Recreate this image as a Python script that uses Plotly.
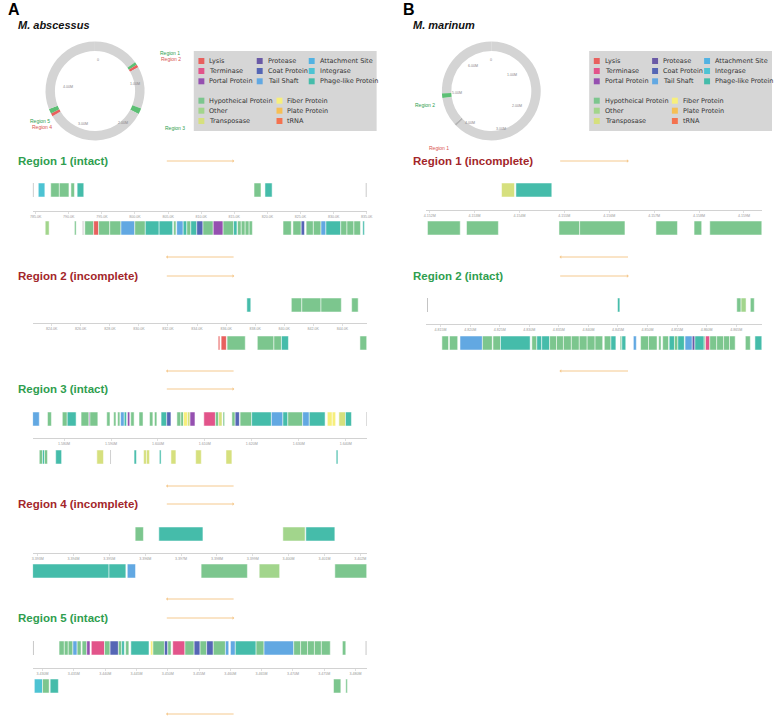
import math
import plotly.graph_objects as go

W, H = 780, 718

# ---------------- colours / categories ----------------
CAT_NAMES = {
    'L': 'Lysis', 'M': 'Terminase', 'Q': 'Portal Protein', 'R': 'Protease',
    'C': 'Coat Protein', 'S': 'Tail Shaft', 'A': 'Attachment Site',
    'I': 'Integrase', 'P': 'Phage-like Protein', 'H': 'Hypotheical Protein',
    'O': 'Other', 'T': 'Transposase', 'F': 'Fiber Protein', 'X': 'Plate Protein',
    'N': 'tRNA', 'B': 'boundary'}
CAT_COLORS = {
    'L': '#e8605e', 'M': '#e2548a', 'Q': '#9550b0', 'R': '#6a5aa6',
    'C': '#5566b5', 'S': '#62a8e2', 'A': '#52b2e2', 'I': '#4dc3d3',
    'P': '#45bcaa', 'H': '#7cc68e', 'O': '#a2d58c', 'T': '#d6e07e',
    'F': '#f7ef7c', 'X': '#f5bf55', 'N': '#f4724f', 'B': '#bdbdbd'}

LEGEND_GROUP1 = [['L', 'R', 'A'], ['M', 'C', 'I'], ['Q', 'S', 'P']]
LEGEND_GROUP2 = [['H', 'F'], ['O', 'X'], ['T', 'N']]

# ---------------- genome circles ----------------
GENOME_A = 5070.0   # kb
GENOME_B = 6600.0
CIRCLE_MARKS_A = [(765, 815, '#5cbf74'), (815, 865, '#e8605e'),
                  (1560, 1660, '#5cbf74'), (3370, 3420, '#e8605e'),
                  (3420, 3500, '#5cbf74')]
CIRCLE_MARKS_B = [(4130, 4180, '#b5b5b5'), (4800, 4900, '#5cbf74')]
CIRCLE_TICKS_A = [0, 1000, 2000, 3000, 4000]
CIRCLE_TICKTEXT_A = ['0', '1.00M', '2.00M', '3.00M', '4.00M']
CIRCLE_TICKS_B = [0, 1000, 2000, 3000, 4000, 5000, 6000]
CIRCLE_TICKTEXT_B = ['0', '1.00M', '2.00M', '3.00M', '4.00M', '5.00M', '6.00M']

# ---------------- region gene data (start kb, end kb, category) ----------------
A1_FWD = [(784.55, 784.70, 'B'), (785.40, 786.39, 'I'), (787.28, 788.58, 'H'), (788.58, 790.03, 'H'),
          (790.33, 790.86, 'H'), (791.27, 792.27, 'P'), (817.98, 819.03, 'H'), (819.63, 820.71, 'P'),
          (834.85, 835.00, 'B')]
A1_REV = [(786.45, 787.04, 'O'), (790.86, 791.12, 'H'), (792.10, 792.22, 'B'), (792.42, 793.76, 'H'),
          (793.76, 794.51, 'L'), (794.51, 796.19, 'H'), (796.19, 797.88, 'H'), (797.88, 799.97, 'S'),
          (799.97, 801.56, 'H'), (801.56, 803.65, 'P'), (803.65, 805.69, 'P'), (805.84, 806.19, 'H'),
          (806.30, 807.28, 'S'), (807.28, 807.83, 'P'), (807.83, 808.43, 'H'), (808.43, 809.33, 'P'),
          (809.33, 810.27, 'C'), (810.27, 811.82, 'H'), (811.82, 813.31, 'Q'), (813.31, 814.89, 'H'),
          (814.89, 815.40, 'P'), (815.49, 816.05, 'H'), (816.05, 816.64, 'H'), (816.64, 817.24, 'H'),
          (817.24, 817.73, 'H'), (822.36, 823.61, 'H'), (823.85, 825.10, 'H'), (825.10, 825.60, 'C'),
          (825.85, 826.94, 'H'), (826.94, 828.09, 'H'), (828.09, 828.83, 'S'), (828.83, 831.07, 'P'),
          (831.07, 832.01, 'H'), (832.01, 833.06, 'H'), (833.06, 834.05, 'H'), (834.40, 834.65, 'P')]
A1_RANGE = [784.55, 835.0]
A1_TICKS = [785, 790, 795, 800, 805, 810, 815, 820, 825, 830, 835]
A1_TICKTEXT = ['785.0K', '790.0K', '795.0K', '800.0K', '805.0K', '810.0K', '815.0K',
               '820.0K', '825.0K', '830.0K', '835.0K']

A2_FWD = [(837.43, 837.70, 'P'), (840.49, 841.21, 'H'), (841.21, 842.53, 'H'), (842.53, 843.93, 'H'),
          (844.64, 845.09, 'H')]
A2_REV = [(835.46, 835.57, 'L'), (835.66, 836.02, 'L'), (836.07, 837.32, 'H'), (838.15, 839.29, 'H'),
          (839.29, 839.81, 'H'), (839.81, 840.29, 'P'), (845.21, 845.68, 'H')]
A2_RANGE = [822.69, 845.68]
A2_TICKS = [824, 826, 828, 830, 832, 834, 836, 838, 840, 842, 844]
A2_TICKTEXT = ['824.0K', '826.0K', '828.0K', '830.0K', '832.0K', '834.0K', '836.0K',
               '838.0K', '840.0K', '842.0K', '844.0K']

A3_FWD = [(1573.30, 1574.71, 'S'), (1576.46, 1577.30, 'H'), (1579.62, 1580.67, 'H'), (1580.67, 1582.56, 'P'),
          (1583.62, 1585.30, 'H'), (1585.30, 1585.51, 'Q'), (1585.51, 1587.19, 'H'), (1589.09, 1589.78, 'H'),
          (1590.56, 1591.05, 'H'), (1591.41, 1591.89, 'H'), (1592.04, 1592.82, 'S'), (1592.82, 1593.30, 'P'),
          (1593.51, 1593.99, 'Q'), (1594.20, 1594.92, 'H'), (1595.97, 1596.82, 'H'), (1598.21, 1598.92, 'H'),
          (1599.26, 1599.77, 'H'), (1600.67, 1601.87, 'P'), (1601.87, 1602.77, 'C'), (1604.04, 1604.88, 'H'),
          (1604.88, 1605.45, 'H'), (1605.45, 1606.29, 'F'), (1606.29, 1606.84, 'T'), (1606.84, 1607.89, 'Q'),
          (1609.78, 1612.25, 'M'), (1612.25, 1612.94, 'H'), (1612.94, 1613.66, 'T'), (1613.87, 1614.21, 'H'),
          (1615.76, 1616.46, 'H'), (1616.46, 1617.36, 'C'), (1617.51, 1619.97, 'H'), (1619.97, 1624.18, 'P'),
          (1624.18, 1626.63, 'S'), (1626.63, 1627.68, 'P'), (1627.68, 1630.84, 'H'), (1630.84, 1632.25, 'S'),
          (1632.25, 1635.62, 'P'), (1636.10, 1637.15, 'F'), (1637.15, 1637.87, 'F'), (1638.56, 1639.97, 'T'),
          (1639.97, 1641.24, 'P'), (1644.35, 1644.50, 'B')]
A3_REV = [(1574.71, 1575.41, 'H'), (1575.41, 1575.83, 'P'), (1575.83, 1576.46, 'H'), (1578.21, 1579.47, 'P'),
          (1586.98, 1588.39, 'T'), (1589.85, 1590.00, 'B'), (1594.92, 1595.41, 'P'), (1596.94, 1597.55, 'T'),
          (1597.55, 1598.21, 'T'), (1600.31, 1600.67, 'P'), (1602.77, 1603.83, 'T'), (1608.04, 1609.24, 'T'),
          (1614.50, 1615.76, 'T'), (1637.99, 1638.35, 'P')]
A3_RANGE = [1573.3, 1644.5]
A3_TICKS = [1580, 1590, 1600, 1610, 1620, 1630, 1640]
A3_TICKTEXT = ['1.580M', '1.590M', '1.600M', '1.610M', '1.620M', '1.630M', '1.640M']

A4_FWD = [(3395.72, 3395.95, 'H'), (3396.38, 3397.61, 'P'), (3399.84, 3400.46, 'O'), (3400.48, 3401.29, 'P')]
A4_REV = [(3392.86, 3394.99, 'P'), (3394.99, 3395.46, 'P'), (3395.50, 3395.73, 'S'), (3397.56, 3398.85, 'H'),
          (3399.18, 3399.75, 'O'), (3401.29, 3402.18, 'H')]
A4_RANGE = [3392.86, 3402.18]
A4_TICKS = [3393, 3394, 3395, 3396, 3397, 3398, 3399, 3400, 3401, 3402]
A4_TICKTEXT = ['3.393M', '3.394M', '3.395M', '3.396M', '3.397M', '3.398M', '3.399M',
               '3.400M', '3.401M', '3.402M']

A5_FWD = [(3428.45, 3428.60, 'B'), (3432.64, 3433.48, 'H'), (3433.48, 3434.11, 'H'), (3434.11, 3434.85, 'H'),
          (3434.85, 3435.53, 'S'), (3435.53, 3436.16, 'H'), (3436.32, 3437.06, 'H'), (3437.06, 3437.58, 'Q'),
          (3437.79, 3439.90, 'M'), (3439.90, 3440.79, 'H'), (3440.79, 3442.12, 'C'), (3442.12, 3442.64, 'H'),
          (3442.64, 3443.07, 'P'), (3443.27, 3443.79, 'H'), (3444.11, 3447.01, 'P'), (3447.26, 3447.64, 'F'),
          (3447.64, 3449.48, 'H'), (3449.48, 3450.01, 'C'), (3450.01, 3450.54, 'H'), (3450.80, 3452.75, 'M'),
          (3452.75, 3454.22, 'H'), (3454.22, 3455.17, 'C'), (3455.17, 3456.22, 'H'), (3456.22, 3457.28, 'C'),
          (3457.28, 3459.22, 'H'), (3459.22, 3459.75, 'S'), (3460.02, 3460.80, 'S'), (3460.80, 3464.12, 'P'),
          (3464.12, 3465.39, 'H'), (3465.39, 3470.13, 'S'), (3470.13, 3471.23, 'H'), (3471.23, 3472.34, 'H'),
          (3472.34, 3473.44, 'H'), (3473.44, 3474.55, 'H'), (3474.55, 3475.97, 'H'), (3477.91, 3478.45, 'H'),
          (3481.62, 3481.78, 'B')]
A5_REV = [(3428.69, 3430.00, 'I'), (3430.00, 3431.06, 'H'), (3431.22, 3432.53, 'P'), (3476.49, 3477.66, 'H'),
          (3478.45, 3478.71, 'H')]
A5_RANGE = [3428.42, 3481.8]
A5_TICKS = [3430, 3435, 3440, 3445, 3450, 3455, 3460, 3465, 3470, 3475, 3480]
A5_TICKTEXT = ['3.430M', '3.435M', '3.440M', '3.445M', '3.450M', '3.455M', '3.460M',
               '3.465M', '3.470M', '3.475M', '3.480M']

B1_FWD = [(4153.60, 4153.89, 'T'), (4153.92, 4154.72, 'P')]
B1_REV = [(4151.95, 4152.68, 'H'), (4152.82, 4153.53, 'H'), (4154.88, 4155.34, 'H'), (4155.34, 4156.35, 'H'),
          (4157.04, 4157.52, 'H'), (4157.89, 4158.06, 'H'), (4158.24, 4159.40, 'H')]
B1_RANGE = [4151.925, 4159.40]
B1_TICKS = [4152, 4153, 4154, 4155, 4156, 4157, 4158, 4159]
B1_TICKTEXT = ['4.152M', '4.153M', '4.154M', '4.155M', '4.156M', '4.157M', '4.158M', '4.159M']

B2_FWD = [(4812.70, 4812.85, 'B'), (4844.93, 4845.32, 'P'), (4865.10, 4865.83, 'H'), (4865.83, 4866.67, 'O'),
          (4867.39, 4868.06, 'H')]
B2_REV = [(4815.22, 4816.34, 'H'), (4816.50, 4817.89, 'H'), (4818.28, 4822.07, 'S'), (4822.07, 4823.74, 'H'),
          (4823.86, 4825.13, 'H'), (4825.13, 4830.15, 'P'), (4830.43, 4831.27, 'H'), (4831.27, 4832.10, 'P'),
          (4832.10, 4833.44, 'P'), (4833.44, 4834.61, 'H'), (4834.61, 4835.78, 'H'), (4835.78, 4837.12, 'H'),
          (4837.12, 4838.46, 'H'), (4838.46, 4839.79, 'H'), (4839.79, 4841.13, 'H'), (4841.13, 4842.42, 'H'),
          (4842.69, 4843.81, 'H'), (4843.81, 4844.65, 'P'), (4845.37, 4845.65, 'H'), (4845.65, 4846.32, 'P'),
          (4847.61, 4848.11, 'S'), (4848.83, 4850.17, 'H'), (4850.17, 4851.62, 'H'), (4851.89, 4852.29, 'H'),
          (4852.56, 4853.56, 'H'), (4853.67, 4854.56, 'P'), (4854.56, 4855.13, 'H'), (4855.13, 4856.23, 'P'),
          (4856.35, 4857.57, 'S'), (4857.57, 4858.02, 'R'), (4858.02, 4859.58, 'P'), (4859.58, 4859.81, 'H'),
          (4859.81, 4860.53, 'M'), (4860.53, 4861.70, 'H'), (4861.70, 4862.87, 'H'), (4862.87, 4863.87, 'H'),
          (4863.87, 4864.83, 'H'), (4866.55, 4867.39, 'H'), (4868.17, 4869.34, 'P')]
B2_RANGE = [4812.59, 4869.34]
B2_TICKS = [4815, 4820, 4825, 4830, 4835, 4840, 4845, 4850, 4855, 4860, 4865]
B2_TICKTEXT = ['4.815M', '4.820M', '4.825M', '4.830M', '4.835M', '4.840M', '4.845M',
               '4.850M', '4.855M', '4.860M', '4.865M']

GREEN_T = '#2f9e4f'
RED_T = '#a3262a'

# region layout: (title, colour, fwd, rev, range, ticks, ticktext, x0, x1, title_y, top_px, axis_px, bot_px, rev_arrow_y)
REGIONS = [
    ('Region 1 (intact)', GREEN_T, A1_FWD, A1_REV, A1_RANGE, A1_TICKS, A1_TICKTEXT, 30, 368, 161, 183, 211, 235, 257),
    ('Region 2 (incomplete)', RED_T, A2_FWD, A2_REV, A2_RANGE, A2_TICKS, A2_TICKTEXT, 30, 368, 276, 298, 323, 350, 371),
    ('Region 3 (intact)', GREEN_T, A3_FWD, A3_REV, A3_RANGE, A3_TICKS, A3_TICKTEXT, 30, 368, 389, 412, 438, 464, 486),
    ('Region 4 (incomplete)', RED_T, A4_FWD, A4_REV, A4_RANGE, A4_TICKS, A4_TICKTEXT, 30, 368, 504, 527, 553, 578, 599),
    ('Region 5 (intact)', GREEN_T, A5_FWD, A5_REV, A5_RANGE, A5_TICKS, A5_TICKTEXT, 30, 368, 618, 641, 668, 693, 714),
    ('Region 1 (incomplete)', RED_T, B1_FWD, B1_REV, B1_RANGE, B1_TICKS, B1_TICKTEXT, 428.3, 767.7, 161, 183, 210, 235, 257),
    ('Region 2 (intact)', GREEN_T, B2_FWD, B2_REV, B2_RANGE, B2_TICKS, B2_TICKTEXT, 428.3, 767.7, 276, 298, 324, 350, 371),
]

fig = go.Figure()
annotations = []
shapes = []


def py(p):
    return 1 - p / H


def px(p):
    return p / W


BAR_PX = 14
for i, (title, tcol, fwd, rev, rng, tv, tt, x0, x1, ty, top, axp, bot, ry) in enumerate(REGIONS, start=1):
    D = bot - top
    wunit = 2.0 * BAR_PX / D
    yc = 1 - BAR_PX / D
    xa = 'x' if i == 1 else f'x{i}'
    ya = 'y' if i == 1 else f'y{i}'
    for strand, genes in ((yc, fwd), (-yc, rev)):
        for is_b in (False, True):
            g = [t for t in genes if (t[2] == 'B') == is_b]
            if not g:
                continue
            fig.add_trace(go.Bar(
                orientation='h', base=[s for s, e, c in g], x=[e - s for s, e, c in g],
                y=[strand] * len(g), width=wunit,
                marker=dict(color=[CAT_COLORS[c] for s, e, c in g],
                            line=dict(color='white', width=0 if is_b else 0.5)),
                xaxis=xa, yaxis=ya, showlegend=False, hoverinfo='skip'))
    fig.layout[f'xaxis{i if i > 1 else ""}'] = dict(
        domain=[px(x0), px(x1)], range=rng, anchor='free', position=py(axp),
        showline=True, linecolor='#d2d2d2', linewidth=1, ticks='outside', ticklen=2,
        tickwidth=0.6, tickcolor='#cccccc', tickvals=tv, ticktext=tt,
        tickfont=dict(size=3.6, color='#999999', family='Liberation Sans'),
        showgrid=False, zeroline=False, fixedrange=True)
    fig.layout[f'yaxis{i if i > 1 else ""}'] = dict(
        domain=[py(bot), py(top)], range=[-1, 1], visible=False, anchor=xa, fixedrange=True)
    tx = 13 if x0 < 100 else 413
    ax0 = 165 if x0 < 100 else 563
    ax1 = 234 if x0 < 100 else 633
    annotations.append(dict(x=px(tx), y=py(ty), xref='paper', yref='paper', xanchor='left', yanchor='middle',
                            text=f'<b>{title}</b>', showarrow=False,
                            font=dict(size=11.5, color=tcol, family='Liberation Sans')))
    annotations.append(dict(x=px(ax1), y=py(ty), xref='paper', yref='paper', text='', showarrow=True,
                            axref='pixel', ayref='pixel', ax=-(ax1 - ax0), ay=0, arrowhead=1, arrowsize=0.6,
                            arrowwidth=1, arrowcolor='#f5c98e'))
    annotations.append(dict(x=px(ax0), y=py(ry), xref='paper', yref='paper', text='', showarrow=True,
                            axref='pixel', ayref='pixel', ax=(ax1 - ax0), ay=0, arrowhead=1, arrowsize=0.6,
                            arrowwidth=1, arrowcolor='#f5c98e'))


# ---------------- circles ----------------
def circle(genome, marks, ticks, ticktext, cx, cy, R):
    vals, cols = [], []
    pos = 0.0
    for s, e, c in marks:
        if s > pos:
            vals.append(s - pos)
            cols.append('#d4d4d4')
        vals.append(e - s)
        cols.append(c)
        pos = e
    vals.append(genome - pos)
    cols.append('#d4d4d4')
    fig.add_trace(go.Pie(values=vals, marker=dict(colors=cols, line=dict(width=0)), sort=False,
                         direction='clockwise', rotation=0, hole=0.81, textinfo='none',
                         hoverinfo='skip', showlegend=False,
                         domain=dict(x=[px(cx - R), px(cx + R)], y=[py(cy + R), py(cy - R)])))
    for v, t in zip(ticks, ticktext):
        a = v / genome * 2 * math.pi
        r = R * 0.70
        annotations.append(dict(x=px(cx + r * math.sin(a)), y=py(cy - r * math.cos(a)), xref='paper',
                                yref='paper', text=t, showarrow=False,
                                font=dict(size=3.6, color='#888888', family='Liberation Sans')))


circle(GENOME_A, CIRCLE_MARKS_A, CIRCLE_TICKS_A, CIRCLE_TICKTEXT_A, 93, 91, 50)
circle(GENOME_B, CIRCLE_MARKS_B, CIRCLE_TICKS_B, CIRCLE_TICKTEXT_B, 494, 91, 50)

REGION_LABELS = [('Region 1', GREEN_T, 157, 48), ('Region 2', '#d9534f', 158, 54.5), ('Region 3', GREEN_T, 162, 123),
                 ('Region 5', GREEN_T, 25, 116), ('Region 4', '#d9534f', 27, 122.5),
                 ('Region 2', GREEN_T, 427, 100), ('Region 1', '#d9534f', 441, 143)]
for t, c, x, y in REGION_LABELS:
    annotations.append(dict(x=px(x), y=py(y), xref='paper', yref='paper', text=t, showarrow=False,
                            font=dict(size=5, color=c, family='Liberation Sans')))

# ---------------- headings ----------------
for letter, x in (('A', 3), ('B', 403)):
    annotations.append(dict(x=px(x), y=py(9), xref='paper', yref='paper', xanchor='left', yanchor='middle',
                            text=f'<b>{letter}</b>', showarrow=False,
                            font=dict(size=16, color='black', family='Liberation Sans')))
for name, x in (('M. abscessus', 13), ('M. marinum', 413)):
    annotations.append(dict(x=px(x), y=py(25), xref='paper', yref='paper', xanchor='left', yanchor='middle',
                            text=f'<b><i>{name}</i></b>', showarrow=False,
                            font=dict(size=11, color='#111111', family='Liberation Sans')))

# ---------------- legends ----------------
for off in (0, 400):
    shapes.append(dict(type='rect', xref='paper', yref='paper', x0=px(193 + off), x1=px(378 + off),
                       y0=py(131), y1=py(51), fillcolor='#d6d6d6', line=dict(width=0), layer='below'))
    g1_cols = [197.7, 256.7, 309.3]
    g1_rows = [61, 71, 81.3]
    for r, row in enumerate(LEGEND_GROUP1):
        for c, code in enumerate(row):
            xs = g1_cols[c] + off
            yy = g1_rows[r]
            shapes.append(dict(type='rect', xref='paper', yref='paper', x0=px(xs), x1=px(xs + 6),
                               y0=py(yy + 3), y1=py(yy - 3), fillcolor=CAT_COLORS[code], line=dict(width=0)))
            annotations.append(dict(x=px(xs + 9), y=py(yy), xref='paper', yref='paper', xanchor='left',
                                    yanchor='middle', text=CAT_NAMES[code], showarrow=False,
                                    font=dict(size=6.5, color='#333333', family='DejaVu Sans')))
    g2_cols = [197.7, 276.7]
    g2_rows = [100.7, 110.7, 121]
    for r, row in enumerate(LEGEND_GROUP2):
        for c, code in enumerate(row):
            xs = g2_cols[c] + off
            yy = g2_rows[r]
            shapes.append(dict(type='rect', xref='paper', yref='paper', x0=px(xs), x1=px(xs + 6),
                               y0=py(yy + 3), y1=py(yy - 3), fillcolor=CAT_COLORS[code], line=dict(width=0)))
            annotations.append(dict(x=px(xs + 9), y=py(yy), xref='paper', yref='paper', xanchor='left',
                                    yanchor='middle', text=CAT_NAMES[code], showarrow=False,
                                    font=dict(size=6.5, color='#333333', family='DejaVu Sans')))

fig.update_layout(width=W, height=H, margin=dict(l=0, r=0, t=0, b=0), paper_bgcolor='white',
                  plot_bgcolor='rgba(0,0,0,0)', barmode='overlay', showlegend=False,
                  annotations=annotations, shapes=shapes)

fig.write_html('out.html', config={'displayModeBar': False, 'staticPlot': True},
               post_script="document.body.style.margin='0';document.body.style.padding='0';"
                           "document.body.style.overflow='hidden';")
